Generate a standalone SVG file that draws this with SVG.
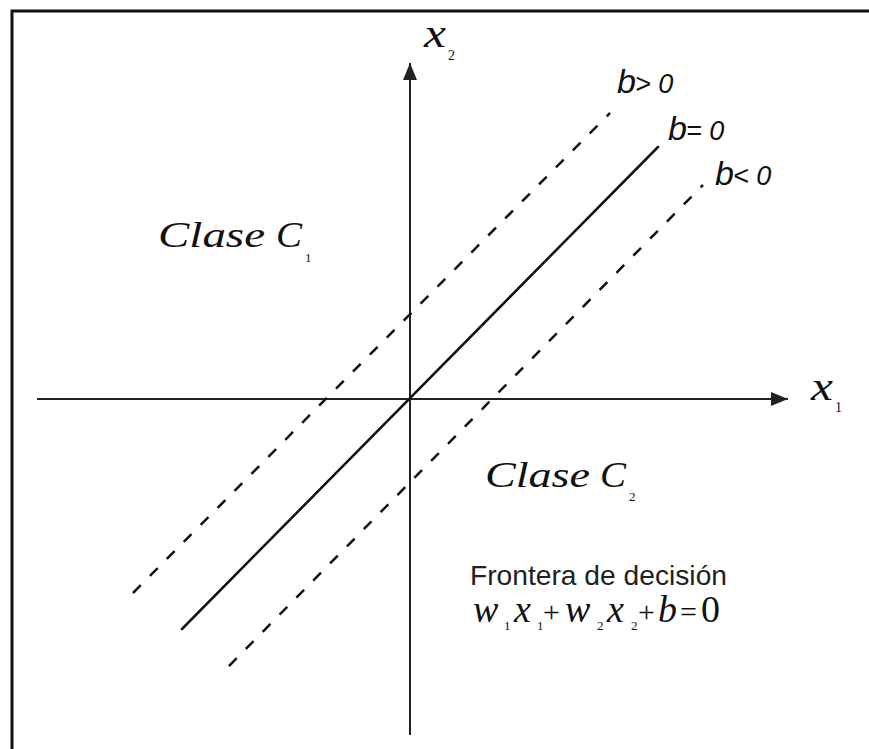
<svg xmlns="http://www.w3.org/2000/svg" width="869" height="749" viewBox="0 0 869 749">
<defs>
<style>
.axis{stroke:#222;stroke-width:2;fill:none}
.line{stroke:#111;stroke-width:2.5;fill:none;stroke-linecap:round}
.dash{stroke:#111;stroke-width:2.5;fill:none;stroke-dasharray:11 13}
.math{font-family:"Liberation Serif","DejaVu Serif",serif;font-style:italic;fill:#111}
.num{font-family:"Liberation Serif","DejaVu Serif",serif;fill:#111}
.blab{font-family:"Liberation Sans","DejaVu Sans",sans-serif;font-style:italic;fill:#111}
.sans{font-family:"Liberation Sans","Arial",sans-serif;fill:#222}
</style>
<marker id="arr" markerWidth="18" markerHeight="14" refX="17" refY="7" orient="auto" markerUnits="userSpaceOnUse">
<path d="M0,0 L17,7 L0,14 Z" fill="#222"/>
</marker>
</defs>
<rect x="0" y="0" width="869" height="749" fill="#fff"/>
<path d="M12,749 L12,11 L869,11" stroke="#111" stroke-width="3" fill="none"/>
<g id="connectors">
<line class="axis" x1="410" y1="735" x2="410" y2="63" marker-end="url(#arr)"/>
<line class="axis" x1="37" y1="399" x2="788" y2="399" marker-end="url(#arr)"/>
<line class="line" x1="182" y1="629" x2="658" y2="147"/>
<line class="dash" x1="133" y1="593" x2="610" y2="113"/>
<line class="dash" x1="229" y1="666" x2="703" y2="185"/>
</g>
<g id="label-x2">
<text class="math" x="424" y="47" font-size="40" textLength="22" lengthAdjust="spacingAndGlyphs">x</text>
<text class="num" x="448" y="60" font-size="14">2</text>
</g>
<g id="label-x1">
<text class="math" x="811" y="400" font-size="40" textLength="22" lengthAdjust="spacingAndGlyphs">x</text>
<text class="num" x="835" y="412" font-size="14">1</text>
</g>
<g id="label-bpos">
<text class="blab" x="617" y="93" font-size="34">b</text>
<text class="blab" x="635" y="93" font-size="27">&gt; 0</text>
</g>
<g id="label-bzero">
<text class="blab" x="668" y="140" font-size="34">b</text>
<text class="blab" x="686" y="140" font-size="27">= 0</text>
</g>
<g id="label-bneg">
<text class="blab" x="715" y="185" font-size="34">b</text>
<text class="blab" x="733" y="185" font-size="27">&lt; 0</text>
</g>
<g id="class-c1">
<text class="math" x="158" y="247" font-size="35" textLength="107" lengthAdjust="spacingAndGlyphs">Clase</text>
<text class="math" x="276" y="247" font-size="35" textLength="26" lengthAdjust="spacingAndGlyphs">C</text>
<text class="num" x="305" y="262" font-size="13">1</text>
</g>
<g id="class-c2">
<text class="math" x="485" y="487" font-size="35" textLength="105" lengthAdjust="spacingAndGlyphs">Clase</text>
<text class="math" x="600" y="487" font-size="35" textLength="26" lengthAdjust="spacingAndGlyphs">C</text>
<text class="num" x="629" y="501" font-size="13">2</text>
</g>
<g id="frontera">
<text class="sans" x="470" y="585" font-size="28" textLength="257" lengthAdjust="spacingAndGlyphs">Frontera de decisión</text>
<text class="math" x="473" y="622" font-size="38">w</text>
<text class="num" x="504" y="630" font-size="13">1</text>
<text class="math" x="514" y="622" font-size="38">x</text>
<text class="num" x="537" y="630" font-size="13">1</text>
<text class="num" x="543" y="622" font-size="30">+</text>
<text class="math" x="565" y="622" font-size="38">w</text>
<text class="num" x="597" y="630" font-size="13">2</text>
<text class="math" x="607" y="622" font-size="38">x</text>
<text class="num" x="631" y="630" font-size="13">2</text>
<text class="num" x="638" y="622" font-size="30">+</text>
<text class="math" x="658" y="622" font-size="38">b</text>
<text class="num" x="680" y="622" font-size="30">=</text>
<text class="num" x="701" y="622" font-size="38">0</text>
</g>
</svg>
